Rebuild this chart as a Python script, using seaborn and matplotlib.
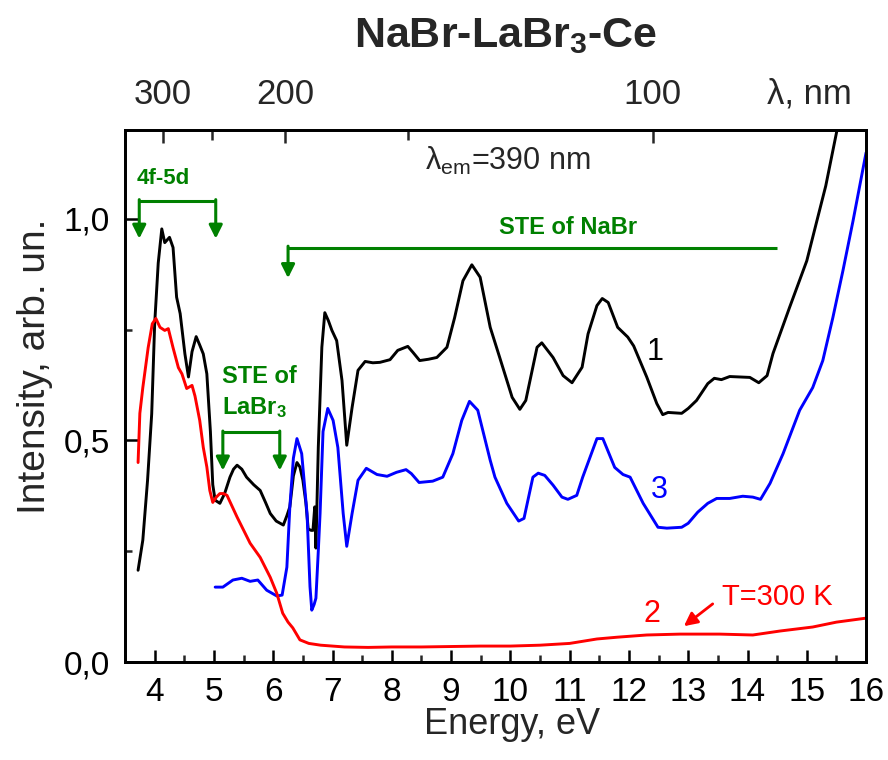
import matplotlib
matplotlib.use("Agg")
import matplotlib.pyplot as plt
import seaborn as sns
from matplotlib.ticker import MultipleLocator, FuncFormatter

# Curve 1 (black)
energy_1 = [3.72, 3.80, 3.88, 3.95, 4.00, 4.06, 4.12, 4.17, 4.25, 4.31, 4.37, 4.43, 4.51, 4.57, 4.63,
            4.70, 4.76, 4.82, 4.88, 4.94, 4.98, 5.02, 5.10, 5.18, 5.27, 5.33, 5.39, 5.47, 5.55, 5.67,
            5.78, 5.87, 5.95, 6.05, 6.17, 6.23, 6.28, 6.34, 6.40, 6.45, 6.50, 6.55, 6.59, 6.64, 6.67,
            6.70, 6.72, 6.76, 6.82, 6.87, 6.93, 6.99, 7.07, 7.16, 7.24, 7.33, 7.43, 7.55, 7.68, 7.80,
            7.97, 8.10, 8.27, 8.36, 8.47, 8.62, 8.76, 8.93, 9.06, 9.20, 9.35, 9.49, 9.66, 9.82, 10.03,
            10.16, 10.26, 10.45, 10.53, 10.72, 10.89, 11.04, 11.21, 11.31, 11.46, 11.55, 11.65, 11.81,
            11.98, 12.08, 12.30, 12.47, 12.57, 12.66, 12.89, 13.00, 13.14, 13.33, 13.44, 13.56, 13.70,
            14.04, 14.19, 14.33, 14.43, 14.71, 15.00, 15.17, 15.32, 15.51, 15.60]
intensity_1 = [0.207, 0.275, 0.41, 0.56, 0.763, 0.90, 0.977, 0.946, 0.958, 0.935, 0.823, 0.786, 0.695,
               0.643, 0.70, 0.734, 0.715, 0.695, 0.65, 0.52, 0.40, 0.365, 0.358, 0.38, 0.417, 0.435,
               0.444, 0.435, 0.417, 0.40, 0.387, 0.36, 0.335, 0.318, 0.309, 0.33, 0.35, 0.42, 0.45,
               0.44, 0.41, 0.36, 0.30, 0.297, 0.297, 0.35, 0.257, 0.484, 0.71, 0.788, 0.77, 0.748,
               0.725, 0.635, 0.489, 0.574, 0.658, 0.678, 0.675, 0.676, 0.682, 0.703, 0.712, 0.698,
               0.68, 0.683, 0.687, 0.71, 0.777, 0.86, 0.896, 0.868, 0.755, 0.687, 0.597, 0.57, 0.59,
               0.71, 0.72, 0.687, 0.646, 0.63, 0.665, 0.74, 0.804, 0.82, 0.811, 0.755, 0.733, 0.713,
               0.643, 0.583, 0.558, 0.563, 0.561, 0.572, 0.59, 0.628, 0.64, 0.637, 0.644, 0.642, 0.63,
               0.646, 0.696, 0.80, 0.905, 0.995, 1.074, 1.20, 1.25]

# Curve 2 (red, T=300 K)
energy_2 = [3.72, 3.75, 3.80, 3.89, 3.96, 4.02, 4.09, 4.17, 4.23, 4.31, 4.40, 4.46, 4.54, 4.63, 4.68,
            4.76, 4.82, 4.88, 4.93, 4.98, 5.04, 5.10, 5.16, 5.22, 5.39, 5.61, 5.78, 5.95, 6.06, 6.16,
            6.25, 6.33, 6.45, 6.60, 6.80, 7.20, 7.60, 8.00, 8.50, 9.00, 9.50, 10.00, 10.50, 11.00,
            11.46, 11.80, 12.30, 12.86, 13.53, 14.09, 14.55, 15.10, 15.50, 16.00]
intensity_2 = [0.45, 0.561, 0.619, 0.709, 0.763, 0.775, 0.755, 0.748, 0.752, 0.709, 0.664, 0.65, 0.617,
               0.624, 0.60, 0.545, 0.484, 0.44, 0.387, 0.36, 0.372, 0.38, 0.38, 0.376, 0.327, 0.268,
               0.236, 0.191, 0.155, 0.11, 0.09, 0.077, 0.05, 0.042, 0.038, 0.034, 0.033, 0.034, 0.034,
               0.035, 0.036, 0.036, 0.038, 0.042, 0.052, 0.056, 0.061, 0.063, 0.063, 0.061, 0.07,
               0.079, 0.09, 0.099]

# Curve 3 (blue)
energy_3 = [5.02, 5.15, 5.32, 5.47, 5.61, 5.74, 5.89, 6.06, 6.15, 6.23, 6.28, 6.34, 6.40, 6.48, 6.57,
            6.62, 6.65, 6.69, 6.72, 6.76, 6.79, 6.84, 6.92, 7.01, 7.09, 7.18, 7.24, 7.33, 7.43, 7.57,
            7.75, 7.92, 8.08, 8.24, 8.33, 8.46, 8.69, 8.86, 9.03, 9.18, 9.31, 9.45, 9.66, 9.74, 9.94,
            10.14, 10.23, 10.38, 10.47, 10.58, 10.72, 10.87, 10.97, 11.12, 11.22, 11.46, 11.56, 11.76,
            11.90, 12.02, 12.24, 12.49, 12.64, 12.89, 13.00, 13.16, 13.33, 13.48, 13.70, 13.92, 14.09,
            14.22, 14.38, 14.60, 14.88, 15.10, 15.27, 15.44, 15.61, 15.78, 16.00]
intensity_3 = [0.169, 0.169, 0.185, 0.189, 0.182, 0.185, 0.162, 0.149, 0.151, 0.214, 0.35, 0.46, 0.504,
               0.47, 0.335, 0.17, 0.117, 0.13, 0.144, 0.25, 0.335, 0.52, 0.572, 0.545, 0.484, 0.335,
               0.261, 0.335, 0.41, 0.437, 0.423, 0.419, 0.428, 0.434, 0.425, 0.405, 0.408, 0.417, 0.47,
               0.545, 0.588, 0.568, 0.455, 0.417, 0.358, 0.318, 0.324, 0.417, 0.426, 0.421, 0.399,
               0.372, 0.367, 0.376, 0.417, 0.504, 0.504, 0.439, 0.423, 0.417, 0.358, 0.304, 0.302,
               0.304, 0.313, 0.338, 0.358, 0.369, 0.369, 0.374, 0.372, 0.367, 0.403, 0.47, 0.568,
               0.619, 0.68, 0.777, 0.883, 0.995, 1.149]

# Wavelength scale on the top axis
wl_major = [300, 200, 100]
wl_minor = [250, 150]
HC = 1239.84  # eV*nm

sns.set_theme(style="ticks")
plt.rcParams["font.family"] = ["Liberation Sans", "DejaVu Sans"]
plt.rcParams["mathtext.fontset"] = "custom"
plt.rcParams["mathtext.rm"] = "Liberation Sans"
plt.rcParams["mathtext.it"] = "Liberation Sans:italic"
plt.rcParams["mathtext.bf"] = "Liberation Sans:bold"

GREEN = "#008000"

fig = plt.figure(figsize=(8.88, 7.6), dpi=100)
ax = fig.add_axes([0.1408, 0.1289, 0.8345, 0.700])

sns.lineplot(x=energy_1, y=intensity_1, color="black", lw=2.1, ax=ax, estimator=None, sort=False)
sns.lineplot(x=energy_3, y=intensity_3, color="#0000ff", lw=2.1, ax=ax, estimator=None, sort=False)
sns.lineplot(x=energy_2, y=intensity_2, color="#ff0000", lw=2.1, ax=ax, estimator=None, sort=False)

ax.set_xlim(3.5, 16)
ax.set_ylim(0, 1.2)

ax.xaxis.set_major_locator(MultipleLocator(1))
ax.xaxis.set_minor_locator(MultipleLocator(0.5))
ax.yaxis.set_major_locator(MultipleLocator(0.5))
ax.yaxis.set_minor_locator(MultipleLocator(0.25))
ax.yaxis.set_major_formatter(FuncFormatter(lambda v, p: f"{v:.1f}".replace(".", ",")))

ax.tick_params(axis="both", which="major", direction="in", length=9, width=1.8,
               labelsize=24, pad=11, colors="black")
ax.tick_params(axis="both", which="minor", direction="in", length=5, width=1.8)
ax.tick_params(axis="x", top=False)
ax.tick_params(axis="y", right=False)
for s in ax.spines.values():
    s.set_linewidth(2.0)
    s.set_color("black")

ax.set_xlabel("Energy, eV", fontsize=26)
ax.set_ylabel("Intensity, arb. un.", fontsize=28)
ax.xaxis.set_label_coords(0.522, -0.085)
ax.yaxis.set_label_coords(-0.097, 0.555)

# Top wavelength axis
top = ax.twiny()
top.set_xlim(ax.get_xlim())
top.set_xticks([HC / w for w in wl_major])
top.set_xticklabels([str(w) for w in wl_major])
top.set_xticks([HC / w for w in wl_minor], minor=True)
top.tick_params(axis="x", which="major", direction="in", length=9, width=1.8, labelsize=25, pad=14)
top.tick_params(axis="x", which="minor", direction="in", length=7, width=1.8)
for s in top.spines.values():
    s.set_linewidth(2.0)
    s.set_color("black")
top.text(15.05, 1.0 + 20 / 532, "λ, nm", transform=top.get_xaxis_transform(), fontsize=25,
         ha="center", va="bottom")

fig.text(0.569, 0.953, r"NaBr-LaBr$_\mathbf{3}$-Ce", fontsize=31, fontweight="bold",
         ha="center", va="center")

ax.text(9.96, 1.13, r"λ$_{\rm em}$=390 nm", fontsize=22, ha="center", va="center")

# Curve numbers
ax.text(12.44, 0.70, "1", fontsize=22, color="black", ha="center", va="center")
ax.text(12.52, 0.387, "3", fontsize=22, color="#0000ff", ha="center", va="center")
ax.text(12.39, 0.108, "2", fontsize=22, color="#ff0000", ha="center", va="center")
ax.text(14.5, 0.146, "T=300 K", fontsize=21, color="#ff0000", ha="center", va="center")
ax.annotate("", xy=(12.89, 0.077), xytext=(13.45, 0.135),
            arrowprops=dict(arrowstyle="-|>", color="#ff0000", lw=2, mutation_scale=20))


def bracket(x0, x1, y_top, y_tip, right_arrow=True):
    ax.plot([x0, x1], [y_top, y_top], color=GREEN, lw=2.2, solid_capstyle="butt")
    ends = [x0, x1] if right_arrow else [x0]
    for xe in ends:
        ax.annotate("", xy=(xe, y_tip), xytext=(xe, y_top + 0.003),
                    arrowprops=dict(arrowstyle="-|>", color=GREEN, lw=2.2,
                                    mutation_scale=20, shrinkA=0, shrinkB=0))


bracket(3.74, 5.03, 1.04, 0.955)
ax.text(4.15, 1.09, "4f-5d", fontsize=16, fontweight="bold", color=GREEN, ha="center", va="center")

bracket(6.25, 14.5, 0.935, 0.866, right_arrow=False)
ax.text(10.98, 0.98, "STE of NaBr", fontsize=17, fontweight="bold", color=GREEN, ha="center", va="center")

bracket(5.15, 6.11, 0.518, 0.432)
ax.text(5.13, 0.645, "STE of", fontsize=17, fontweight="bold", color=GREEN, ha="left", va="center")
ax.text(5.13, 0.575, r"LaBr$_\mathbf{3}$", fontsize=17, fontweight="bold", color=GREEN, ha="left", va="center")

fig.savefig("out.png", dpi=100)
